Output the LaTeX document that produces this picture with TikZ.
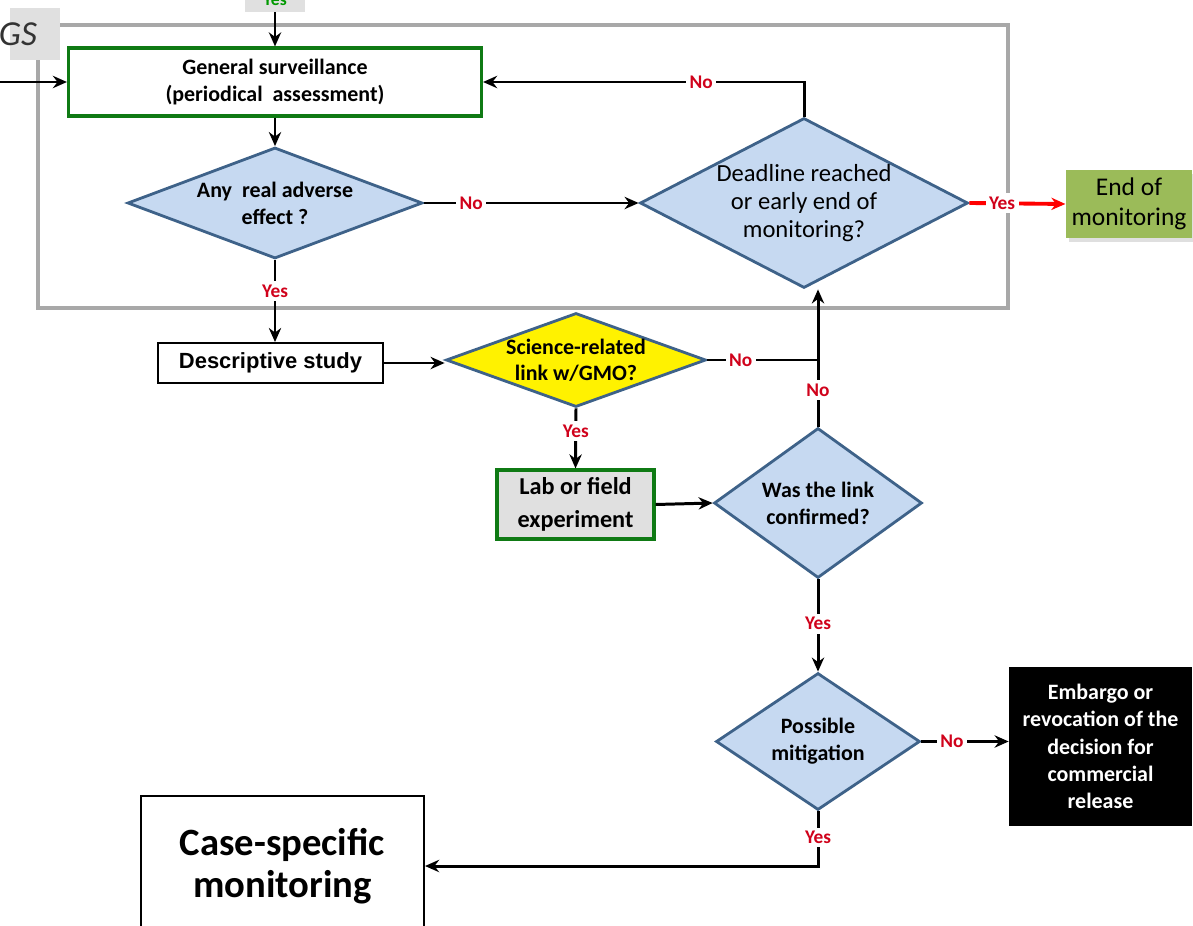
\documentclass[tikz,border=0pt]{standalone}
\usepackage{fontspec}
\setmainfont{Carlito}
\newfontfamily\arialfont{Liberation Sans}
\usetikzlibrary{arrows.meta,shapes.geometric,shadows}

\definecolor{decfill}{HTML}{C6D9F1}
\definecolor{decline}{HTML}{3E6289}
\definecolor{gsgreen}{HTML}{0F7A14}
\definecolor{replyred}{HTML}{D0021B}
\definecolor{endgreen}{HTML}{9BBB59}
\definecolor{framegray}{HTML}{A8A8A8}

\begin{document}
\begin{tikzpicture}[x=0.02cm, y=-0.02cm, >={Stealth[length=8pt,width=7pt]}]
    \tikzstyle{decision}=[diamond, draw=decline, fill=decfill, line width=1.6pt, inner sep=0pt]
    \tikzstyle{smalltext}=[align=center, font=\fontsize{12.5}{15.5}\selectfont\bfseries]
    \tikzstyle{reply}=[fill=white, text=replyred, font=\fontsize{11}{12}\selectfont\bfseries, inner sep=2pt]
    \tikzstyle{flow}=[->, line width=1.7pt]

    \useasboundingbox (0,0) rectangle (1193,926);
    \clip (0,0) rectangle (1193,926);

    % GS frame
    \draw[framegray, line width=1.8pt] (38,25) rectangle (1008,308);
    \node at (35,34) (gstab) [fill=black!12, minimum width=1cm, minimum height=1.04cm] {};
    \node at (18,34) (gstitle) [font=\fontsize{20}{22}\selectfont\itshape, text=black!80] {GS};
    \node at (275,0) (prev) [fill=black!12, minimum width=1.2cm, minimum height=0.48cm, text=green!60!black, font=\bfseries] {Yes};

    \node at (275,82) (gs) [draw=gsgreen, line width=1.8pt, fill=white, minimum width=8.26cm, minimum height=1.36cm, smalltext] {General surveillance\\(periodical~~assessment)};
    \node at (275,203) (adverse) [decision, minimum width=5.9cm, minimum height=2.22cm, label={[smalltext]center:Any~~real adverse\\effect ?}] {};
    \node at (804,203) (deadline) [decision, minimum width=6.56cm, minimum height=3.4cm, label={[align=center, font=\fontsize{14}{16}\selectfont]center:Deadline reached\\or early end of\\monitoring?}] {};
    \node at (1129,204) (endmon) [fill=endgreen, minimum width=2.44cm, minimum height=1.36cm, align=center, font=\fontsize{14.5}{17}\selectfont, drop shadow={opacity=0.25, shadow xshift=0.06cm, shadow yshift=-0.08cm}] {End of\\monitoring};

    \node at (270.5,363) (descr) [draw, line width=1.1pt, minimum width=4.5cm, minimum height=0.8cm, font=\arialfont\fontsize{12.5}{14}\selectfont\bfseries] {Descriptive study};
    \node at (576,360) (science) [decision, fill=yellow, minimum width=5.2cm, minimum height=1.88cm, label={[align=center, font=\fontsize{12.5}{14.7}\selectfont\bfseries]center:Science-related\\link w/GMO?}] {};
    \node at (575.5,504.5) (lab) [draw=gsgreen, fill=black!12, line width=1.8pt, minimum width=3.14cm, minimum height=1.38cm, align=center, font=\fontsize{13.8}{18.5}\selectfont\bfseries] {Lab or field\\experiment};
    \node at (818,503) (confirm) [decision, minimum width=4.16cm, minimum height=3cm, label={[smalltext]center:Was the link\\confirmed?}] {};
    \node at (818,741.5) (mitig) [decision, minimum width=4.08cm, minimum height=2.74cm, label={[smalltext]center:Possible\\mitigation}] {};
    \node at (1100.5,746.5) (embargo) [fill=black, text=white, minimum width=3.66cm, minimum height=3.18cm, smalltext] {Embargo or\\revocation of the\\decision for\\commercial\\release};
    \node at (282.5,866) (casemon) [draw, line width=1.2pt, minimum width=5.66cm, minimum height=2.8cm, align=center, font=\fontsize{22}{24}\selectfont\bfseries] {Case-specific\\monitoring};

    % connectors
    \coordinate (gsin) at (-5,82);
    \draw[flow] (gsin) -- (gs.west);
    \draw[flow] (prev.south) -- (gs.north);
    \draw[flow] (gs.south) -- (adverse.north);
    \draw[flow] (adverse.east) -- node[reply, pos=0.22] {No} (deadline.west);
    \draw[flow] (deadline.north) |- node[reply, pos=0.66] {No} (gs.east);
    \draw[flow, red, line width=2.2pt] (deadline.east) -- node[reply, pos=0.34] {Yes} (endmon.west);
    \draw[flow] (adverse.south) -- node[reply, pos=0.38] {Yes} (adverse.south |- descr.north);
    \draw[flow] (descr.east) -- (descr.east -| science.west);
    \draw[flow] (science.south) -- node[reply, pos=0.38] {Yes} (lab.north);
    \draw[flow] (lab.east) -- (confirm.west);
    \coordinate (join) at (confirm.north |- science.east);
    \draw[line width=1.7pt] (science.east) -- node[reply, pos=0.3] {No} (join);
    \draw[line width=1.7pt] (confirm.north) -- node[reply, pos=0.55] {No} (join);
    \draw[flow] (join) -- (join |- deadline.south);
    \draw[flow] (confirm.south) -- node[reply, pos=0.48] {Yes} (mitig.north);
    \draw[flow] (mitig.east) -- node[reply, pos=0.35] {No} (mitig.east -| embargo.west);
    \draw[flow] (mitig.south) |- node[reply, pos=0.24] {Yes} (casemon.east);

\end{tikzpicture}
\end{document}
